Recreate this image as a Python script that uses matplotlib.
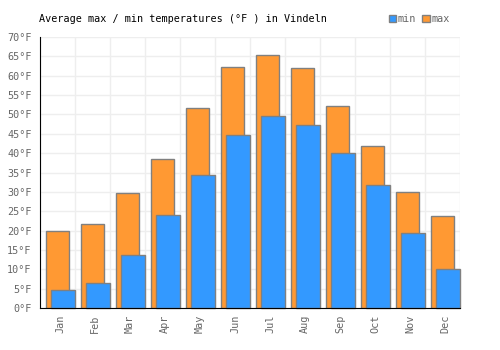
import matplotlib
matplotlib.use("Agg")
import matplotlib.pyplot as plt
import numpy as np

months = ["Jan", "Feb", "Mar", "Apr", "May", "Jun", "Jul", "Aug", "Sep", "Oct", "Nov", "Dec"]
t_max = [19.8, 21.6, 29.8, 38.6, 51.6, 62.2, 65.4, 61.9, 52.3, 41.8, 29.9, 23.8]
t_min = [4.6, 6.4, 13.7, 24.0, 34.3, 44.6, 49.7, 47.4, 40.0, 31.7, 19.4, 10.1]
yticks = list(range(0, 75, 5))

plt.rcParams['font.family'] = ['DejaVu Sans Mono']
fig = plt.figure(figsize=(5, 3.5), dpi=100)
ax = fig.add_axes([0.08, 0.12, 0.84, 0.774])

x = np.arange(len(months))
ax.bar(x + 0.505, t_max, width=0.67, color="#FF9933", edgecolor="#808080", linewidth=1, label="max", zorder=2)
ax.bar(x + 0.66, t_min, width=0.70, color="#3399FF", edgecolor="#808080", linewidth=1, label="min", zorder=3, clip_on=False)

ax.set_xlim(0, 12)
ax.set_ylim(0, 70)
ax.set_yticks(yticks)
ax.set_yticklabels([f"{v}°F" for v in yticks])
ax.set_xticks(x + 0.57)
ax.set_xticklabels(months, rotation=90)
ax.set_xticks(np.arange(0, 13), minor=True)
ax.grid(False)
ax.yaxis.grid(True, color="#eeeeee", linewidth=1, zorder=0)
ax.xaxis.grid(True, which="minor", color="#eeeeee", linewidth=1, zorder=0)
ax.set_axisbelow(True)
ax.tick_params(axis="both", which="both", length=0, labelsize=7.3, labelcolor="#666666")
ax.tick_params(axis="y", pad=6)
ax.tick_params(axis="x", pad=5)
for s in ["top", "right"]:
    ax.spines[s].set_visible(False)
ax.spines["left"].set_color("black")
ax.spines["bottom"].set_color("black")
ax.spines["left"].set_zorder(4)
ax.spines["bottom"].set_zorder(4)

fig.text(0.078, 0.946, "Average max / min temperatures (°F ) in Vindeln", fontsize=7.3, color="black", va="center", ha="left")

handles, labels = ax.get_legend_handles_labels()
leg = fig.legend(handles[::-1], labels[::-1], loc="center right", bbox_to_anchor=(0.908, 0.946), ncol=2,
                 frameon=False, handlelength=0.7, handleheight=0.7, handletextpad=0.2, columnspacing=0.6,
                 fontsize=7.3, borderaxespad=0)
for t in leg.get_texts():
    t.set_color("#666666")

fig.savefig("out.png", dpi=100)
